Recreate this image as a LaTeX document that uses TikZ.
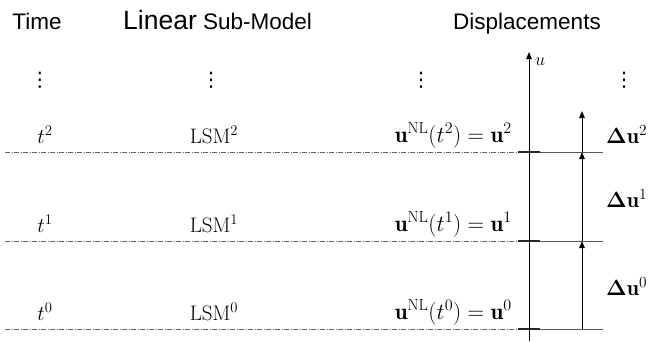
\documentclass[tikz,border=0pt]{standalone}
\usepackage{fix-cm}
\usepackage{amsmath}
\usepackage{fontspec}
\newfontfamily\hdr{Liberation Sans}
\newfontfamily\djv{DejaVu Sans}
\usetikzlibrary{arrows.meta}
\begin{document}
\begin{tikzpicture}[x=1pt,y=-1pt,
  hd/.style={font=\hdr\fontsize{22.5}{26}\selectfont, inner sep=0pt, anchor=base},
  lbl/.style={font=\fontsize{21}{25}\selectfont, inner sep=0pt, anchor=base},
  ulbl/.style={font=\fontsize{23}{27}\selectfont, inner sep=0pt, anchor=base east},
  dlbl/.style={font=\fontsize{22}{26}\selectfont, inner sep=0pt, anchor=base west},
  vd/.style={font=\djv\fontsize{20}{22}\selectfont, inner sep=0pt},
  level/.style={draw=black!60, line width=0.6pt, dash pattern=on 5pt off 1.5pt on 1pt off 1.5pt},
  solidlevel/.style={draw=black!65, line width=0.8pt},
  tick/.style={line width=1.4pt, draw=black!85},
  arr/.style={-{Triangle[length=7pt,width=5.5pt]}, line width=1pt}]
\useasboundingbox (0,0) rectangle (649,341);
% headers
\node[hd] (htime) at (37,29) {Time};
\node[hd, anchor=base west] (hlin) at (123,29) {\fontsize{26.5}{28}\selectfont Linear\fontsize{22.5}{26}\selectfont{} Sub-Model};
\node[hd] (hdisp) at (527,29) {Displacements};
% vdots
\node[vd] (d1) at (40,80) {⋮};
\node[vd] (d2) at (211,80) {⋮};
\node[vd] (d3) at (421,80) {⋮};
\node[vd] (d4) at (624,80) {⋮};
% level lines
\coordinate (l2a) at (5,152); \coordinate (l2b) at (518,152); \coordinate (l2c) at (603,152);
\coordinate (l1a) at (5,241); \coordinate (l1b) at (518,241); \coordinate (l1c) at (603,241);
\coordinate (l0a) at (5,329); \coordinate (l0b) at (518,329); \coordinate (l0c) at (603,329);
\draw[level] (l2a) -- (l2b);
\draw[level] (l1a) -- (l1b);
\draw[level] (l0a) -- (l0b);
\draw[solidlevel] (l2b) -- (l2c);
\draw[solidlevel] (l1b) -- (l1c);
\draw[solidlevel] (l0b) -- (l0c);
\coordinate (k2a) at (518,152); \coordinate (k2b) at (540,152);
\coordinate (k1a) at (518,241); \coordinate (k1b) at (540,241);
\coordinate (k0a) at (518,329); \coordinate (k0b) at (540,329);
\draw[tick] (k2a) -- (k2b);
\draw[tick] (k1a) -- (k1b);
\draw[tick] (k0a) -- (k0b);
% axis
\coordinate (axb) at (529,341);
\coordinate (axt) at (529,52);
\draw[arr] (axb) -- (axt);
\node[font=\fontsize{18}{20}\selectfont, anchor=base west, inner sep=0pt] (ulab) at (535,65) {$u$};
% increment arrows
\coordinate (a0) at (582,329); \coordinate (a1) at (582,241); \coordinate (a2) at (582,152); \coordinate (a3) at (582,111);
\draw[arr] (a0) -- (a1);
\draw[arr] (a1) -- (a2);
\draw[arr] (a2) -- (a3);
\node[dlbl] (du2) at (606,143) {$\boldsymbol{\Delta}\mathbf{u}^2$};
\node[dlbl] (du1) at (606,207) {$\boldsymbol{\Delta}\mathbf{u}^1$};
\node[dlbl] (du0) at (606,295) {$\boldsymbol{\Delta}\mathbf{u}^0$};
% row labels
\node[lbl] (t2) at (45,143) {$t^2$};
\node[lbl] (t1) at (45,232) {$t^1$};
\node[lbl] (t0) at (45,320) {$t^0$};
\node[lbl] (lsm2) at (214,143) {LSM$^2$};
\node[lbl] (lsm1) at (214,232) {LSM$^1$};
\node[lbl] (lsm0) at (214,320) {LSM$^0$};
\node[ulbl] (u2) at (512,142) {$\mathbf{u}^{\mathrm{NL}}(t^2) = \mathbf{u}^2$};
\node[ulbl] (u1) at (512,231) {$\mathbf{u}^{\mathrm{NL}}(t^1) = \mathbf{u}^1$};
\node[ulbl] (u0) at (512,319) {$\mathbf{u}^{\mathrm{NL}}(t^0) = \mathbf{u}^0$};
\end{tikzpicture}
\end{document}
